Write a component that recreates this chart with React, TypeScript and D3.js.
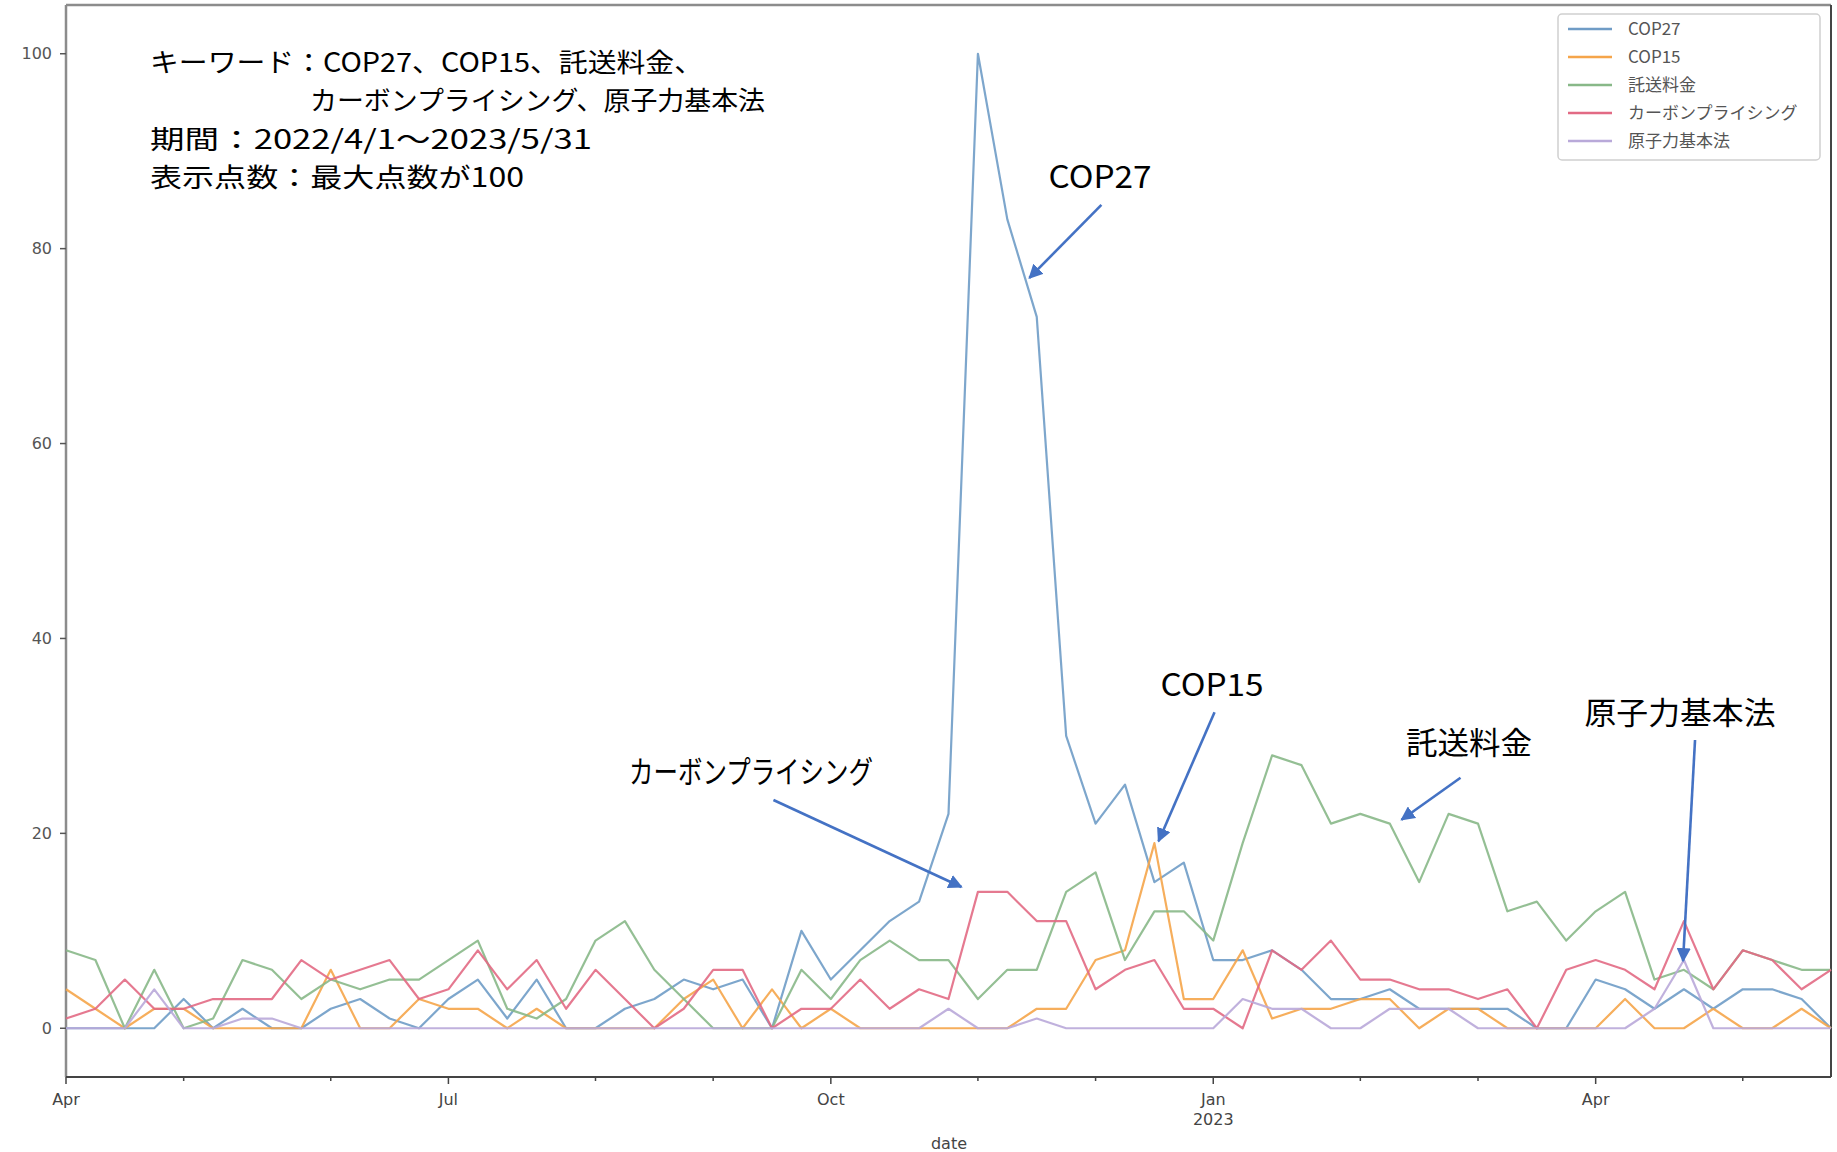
import React from "react";
import * as d3 from "d3";

// ---- data (weekly, Google-Trends style, 2022-04-03 .. 2023-05-28) ----
const seriesNames = ["COP27", "COP15", "託送料金", "カーボンプライシング", "原子力基本法"];
const cop27 = [0,0,0,0,3,0,2,0,0,2, 3,1,0,3,5,1,5,0,0,2, 3,5,4,5,0,10,5,8,11,13, 22,100,83,73,30,21,25,15,17,7, 7,8,6,3,3,4,2,2,2,2, 0,0,5,4,2,4,2,4,4,3, 0];
const cop15 = [4,2,0,2,2,0,0,0,0,6, 0,0,3,2,2,0,2,0,0,0, 0,3,5,0,4,0,2,0,0,0, 0,0,0,2,2,7,8,19,3,3, 8,1,2,2,3,3,0,2,2,0, 0,0,0,3,0,0,2,0,0,2, 0];
const takuso = [8,7,0,6,0,1,7,6,3,5, 4,5,5,7,9,2,1,3,9,11, 6,3,0,0,0,6,3,7,9,7, 7,3,6,6,14,16,7,12,12,9, 19,28,27,21,22,21,15,22,21,12, 13,9,12,14,5,6,4,8,7,6, 6];
const carbon = [1,2,5,2,2,3,3,3,7,5, 6,7,3,4,8,4,7,2,6,3, 0,2,6,6,0,2,2,5,2,4, 3,14,14,11,11,4,6,7,2,2, 0,8,6,9,5,5,4,4,3,4, 0,6,7,6,4,11,4,8,7,4, 6];
const nuclear = [0,0,0,4,0,0,1,1,0,0, 0,0,0,0,0,0,0,0,0,0, 0,0,0,0,0,0,0,0,0,0, 2,0,0,1,0,0,0,0,0,0, 3,2,2,0,0,2,2,2,0,0, 0,0,0,0,2,7,0,0,0,0, 0];
const yTicks = [0, 20, 40, 60, 80, 100];
const infoLines = [
  "キーワード：COP27、COP15、託送料金、",
  "カーボンプライシング、原子力基本法",
  "期間：2022/4/1～2023/5/31",
  "表示点数：最大点数が100",
];
// annotation: label, tip in data coords (week index, value)
const annotations = [
  { label: "COP27", idx: 32.75, value: 77 },
  { label: "COP15", idx: 37.14, value: 19.2 },
  { label: "託送料金", idx: 45.4, value: 21.4 },
  { label: "原子力基本法", idx: 54.97, value: 6.9 },
  { label: "カーボンプライシング", idx: 30.44, value: 14.5 },
];

const allSeries = [cop27, cop15, takuso, carbon, nuclear];
const colors = ["#6f9cc6", "#f5a54a", "#88b888", "#e26a84", "#b9a9d9"];

const W = 1837, H = 1152;
const L = 66, R = 1831, T = 5, B = 1077;

export default function App() {
  const dates = d3.timeWeek.range(new Date(2022, 3, 3), new Date(2023, 4, 29));
  const x = d3.scaleTime().domain([dates[0], dates[dates.length - 1]]).range([L, R]);
  const y = d3.scaleLinear().domain([-5, 105]).range([B, T]);
  const line = d3.line<number>().x((_, i) => x(dates[i])).y((d) => y(d));

  const months = d3.timeMonth.range(new Date(2022, 3, 1), new Date(2023, 5, 1));
  const fmt = d3.timeFormat("%b");
  const idxDate = (idx: number) => new Date(dates[0].getTime() + idx * 7 * 864e5);

  const annLayout: Record<string, { dx: number; dy: number; tx: number; ty: number; tl: number }> = {
    "COP27": { dx: 72, dy: -73, tx: 1100, ty: 188, tl: 103 },
    "COP15": { dx: 56, dy: -129, tx: 1212, ty: 696, tl: 103 },
    "託送料金": { dx: 59, dy: -42, tx: 1469, ty: 754, tl: 126 },
    "原子力基本法": { dx: 12, dy: -221, tx: 1680, ty: 724, tl: 191 },
    "カーボンプライシング": { dx: -188, dy: -87, tx: 751, ty: 783, tl: 244 },
  };
  const infoPos = [
    { x: 150, y: 72, tl: 553 },
    { x: 310, y: 110, tl: 455 },
    { x: 150, y: 149, tl: 442 },
    { x: 150, y: 187, tl: 374 },
  ];
  const legendRows = [29, 57, 85, 113, 141];

  return (
    <svg width={W} height={H} style={{ position: "absolute", left: 0, top: 0, background: "#fff" }}>
      <rect x={0} y={0} width={W} height={H} fill="#fff" />
      {/* spines */}
      <line x1={L} y1={T} x2={R} y2={T} stroke="#8c8c8c" strokeWidth={2.5} />
      <line x1={L} y1={T} x2={L} y2={B} stroke="#8c8c8c" strokeWidth={2.5} />
      <line x1={R} y1={T} x2={R} y2={B} stroke="#444" strokeWidth={2} />
      <line x1={L} y1={B} x2={R} y2={B} stroke="#444" strokeWidth={2} />

      {/* y ticks */}
      {yTicks.map((t) => (
        <g key={t}>
          <line x1={L - 6} x2={L} y1={y(t)} y2={y(t)} stroke="#555" strokeWidth={1.5} />
          <text x={L - 14} y={y(t)} dy="0.35em" textAnchor="end" fontFamily="DejaVu Sans" fontSize={16} fill="#555">
            {t}
          </text>
        </g>
      ))}

      {/* x ticks */}
      {months.map((m) => {
        const pos = x(d3.timeWeek.ceil(m));
        const major = m.getMonth() % 3 === 0;
        return (
          <g key={m.getTime()}>
            <line x1={pos} x2={pos} y1={B} y2={B + (major ? 7 : 4)} stroke="#444" strokeWidth={1.5} />
            {major && (
              <text x={pos} y={B + 28} textAnchor="middle" fontFamily="DejaVu Sans" fontSize={16} fill="#444">
                {fmt(m)}
              </text>
            )}
            {major && m.getMonth() === 0 && (
              <text x={pos} y={B + 48} textAnchor="middle" fontFamily="DejaVu Sans" fontSize={16} fill="#444">
                {m.getFullYear()}
              </text>
            )}
          </g>
        );
      })}
      <text x={949} y={1149} textAnchor="middle" fontFamily="DejaVu Sans" fontSize={16} fill="#444">date</text>

      {/* series */}
      {allSeries.map((s, k) => (
        <path key={k} d={line(s) || ""} fill="none" stroke={colors[k]} strokeWidth={2.2} strokeOpacity={0.9} strokeLinejoin="round" />
      ))}

      {/* legend */}
      <rect x={1558} y={14} width={262} height={146} rx={4} fill="#fff" fillOpacity={0.85} stroke="#d0d0d0" strokeWidth={1.5} />
      {seriesNames.map((n, k) => (
        <g key={n}>
          <line x1={1568} x2={1612} y1={legendRows[k]} y2={legendRows[k]} stroke={colors[k]} strokeWidth={2.5} />
          <text x={1628} y={legendRows[k]} dy="0.35em" fontFamily="Noto Sans CJK JP" fontSize={17} fill="#555">
            {n}
          </text>
        </g>
      ))}

      {/* info text */}
      {infoLines.map((t, i) => (
        <text key={i} x={infoPos[i].x} y={infoPos[i].y} fontFamily="Noto Sans CJK JP" fontSize={26.5} fill="#000"
          textLength={infoPos[i].tl} lengthAdjust="spacingAndGlyphs">
          {t}
        </text>
      ))}

      {/* annotations */}
      <defs>
        <marker id="ah" viewBox="0 0 10 10" refX={9} refY={5} markerWidth={5.5} markerHeight={5.5} orient="auto" markerUnits="strokeWidth">
          <path d="M0,0 L10,5 L0,10 z" fill="#4472c4" />
        </marker>
      </defs>
      {annotations.map((a) => {
        const lay = annLayout[a.label];
        const tx = x(idxDate(a.idx));
        const ty = y(a.value);
        return (
          <g key={a.label}>
            <line x1={tx + lay.dx} y1={ty + lay.dy} x2={tx} y2={ty} stroke="#4472c4" strokeWidth={2.6} markerEnd="url(#ah)" />
            <text x={lay.tx} y={lay.ty} textAnchor="middle" fontFamily="Noto Sans CJK JP" fontSize={31} fill="#000"
              textLength={lay.tl} lengthAdjust="spacingAndGlyphs">
              {a.label}
            </text>
          </g>
        );
      })}
    </svg>
  );
}
